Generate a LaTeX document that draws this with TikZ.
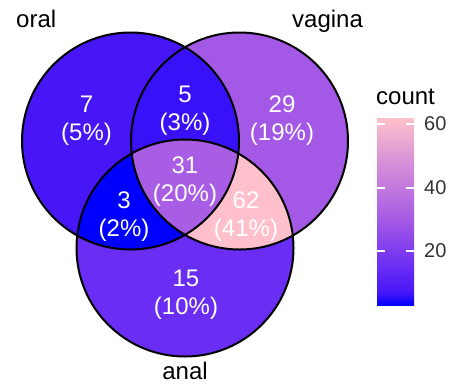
\documentclass[tikz,border=0pt]{standalone}
\usepackage{fontspec}
\setmainfont{Liberation Sans}
\definecolor{cseven}{HTML}{4616F7}
\definecolor{cfive}{HTML}{3811F9}
\definecolor{ctwentynine}{HTML}{A458E6}
\definecolor{cthirtyone}{HTML}{A95DE4}
\definecolor{cthree}{HTML}{0000FF}
\definecolor{csixtytwo}{HTML}{FFC0CB}
\definecolor{cfifteen}{HTML}{6A2DF4}
\definecolor{cfortyseven}{HTML}{D48DD8}
\definecolor{ticktext}{HTML}{333333}
\pgfdeclareverticalshading{countgrad}{100bp}{color(0bp)=(cthree); color(25bp)=(cthree); color(28.39bp)=(cseven); color(35.17bp)=(cfifteen); color(48.73bp)=(cthirtyone); color(62.29bp)=(cfortyseven); color(75bp)=(csixtytwo); color(100bp)=(csixtytwo)}
\begin{document}
\begin{tikzpicture}[x=1pt,y=-1pt,
  num/.style={text=white,align=center,font=\fontsize{24}{28}\selectfont,inner sep=0pt},
  setlabel/.style={text=black,font=\fontsize{24}{28}\selectfont,inner sep=0pt},
  ticklabel/.style={text=ticktext,font=\fontsize{20}{24}\selectfont,inner sep=0pt,anchor=west},
  outline/.style={draw=black,line width=2pt},
  tickmark/.style={draw=white,line width=1.5pt}]
\useasboundingbox (0,0) rectangle (454,389);
\coordinate (O) at (130.5,141);
\coordinate (V) at (239.5,141);
\coordinate (A) at (185,248);
\def\R{108.5}
% single-set fills
\fill[cseven] (O) circle (\R);
\fill[ctwentynine] (V) circle (\R);
\fill[cfifteen] (A) circle (\R);
% pairwise
\begin{scope}\clip (O) circle (\R); \fill[cfive] (V) circle (\R);\end{scope}
\begin{scope}\clip (O) circle (\R); \fill[cthree] (A) circle (\R);\end{scope}
\begin{scope}\clip (V) circle (\R); \fill[csixtytwo] (A) circle (\R);\end{scope}
% triple
\begin{scope}\clip (O) circle (\R); \clip (V) circle (\R); \fill[cthirtyone] (A) circle (\R);\end{scope}
% outlines
\draw[outline] (O) circle (\R);
\draw[outline] (V) circle (\R);
\draw[outline] (A) circle (\R);
% region labels
\node[num] (n7) at (86.5,121) {7\\(5\%)};
\node[num] (n5) at (185,111) {5\\(3\%)};
\node[num] (n29) at (282,121) {29\\(19\%)};
\node[num] (n31) at (185,181.5) {31\\(20\%)};
\node[num] (n3) at (124,216.5) {3\\(2\%)};
\node[num] (n62) at (246,216.5) {62\\(41\%)};
\node[num] (n15) at (186,295) {15\\(10\%)};
% set labels
\node[setlabel,anchor=base west] (loral) at (16,27) {oral};
\node[setlabel,anchor=base west] (lvag) at (292,27) {vagina};
\node[setlabel,anchor=base] (lanal) at (185,379) {anal};
% legend
\node[setlabel,anchor=base west] (lcount) at (376,104) {count};
\shade[shading=countgrad] (377,118) rectangle (414,305);
\foreach \y/\t in {124/60,188/40,251/20}{
  \draw[tickmark] (377,\y) -- (385,\y);
  \draw[tickmark] (406,\y) -- (414,\y);
  \node[ticklabel] at (424,\y) {\t};
}
\end{tikzpicture}
\end{document}
